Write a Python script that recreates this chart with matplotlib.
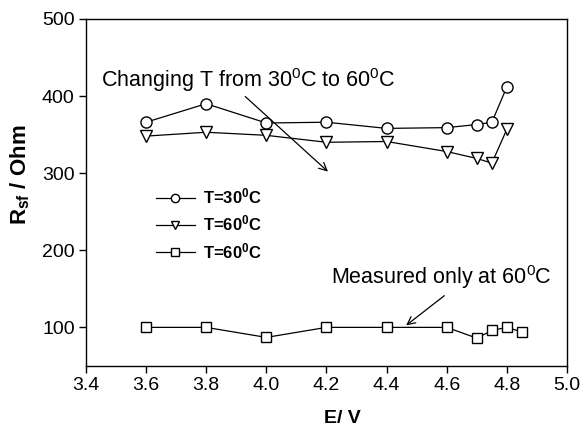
import numpy as np
import matplotlib
matplotlib.use('Agg')
import matplotlib.pyplot as plt

plt.rcParams['font.family'] = ['Liberation Sans', 'DejaVu Sans']
plt.rcParams['mathtext.fontset'] = 'custom'
plt.rcParams['mathtext.rm'] = 'Liberation Sans'
plt.rcParams['mathtext.it'] = 'Liberation Sans:italic'
plt.rcParams['mathtext.bf'] = 'Liberation Sans:bold'

# sheet resistance vs potential
E_30 = [3.6, 3.8, 4.0, 4.2, 4.4, 4.6, 4.7, 4.75, 4.8]
R_30 = [366, 390, 365, 366, 358, 359, 363, 366, 412]

E_60 = [3.6, 3.8, 4.0, 4.2, 4.4, 4.6, 4.7, 4.75, 4.8]
R_60 = [348, 353, 349, 340, 341, 328, 319, 313, 357]

E_60b = [3.6, 3.8, 4.0, 4.2, 4.4, 4.6, 4.7, 4.75, 4.8, 4.85]
R_60b = [100, 100, 87, 100, 100, 100, 86, 96, 100, 94]

fig = plt.figure(figsize=(5.84, 4.29), dpi=100)
ax = fig.add_axes([0.147, 0.147, 0.824, 0.809])

mk = dict(color='black', lw=0.9, mfc='white', mec='black', mew=1.0)
ax.plot(E_30, R_30, marker='o', ms=8, label=r'T=30$^\mathbf{0}$C', **mk)
ax.plot(E_60, R_60, marker='v', ms=8, label=r'T=60$^\mathbf{0}$C', **mk)
ax.plot(E_60b, R_60b, marker='s', ms=7.5, label=r'T=60$^\mathbf{0}$C', **mk)

ax.set_xlim(3.4, 5.0)
ax.set_ylim(50, 500)
ax.set_xticks(np.arange(3.4, 5.01, 0.2))
ax.set_xticklabels(['%.1f' % v for v in np.arange(3.4, 5.01, 0.2)])
ax.set_yticks([100, 200, 300, 400, 500])
ax.tick_params(axis='both', which='major', labelsize=14, direction='out',
               length=5, width=1, pad=3)

for s in ax.spines.values():
    s.set_linewidth(1.0)

ax.set_xlabel('E/ V', fontsize=14, fontweight='bold')
ax.xaxis.set_label_coords(0.534, -0.128)
ax.set_ylabel(r'R$_\mathbf{sf}$ / Ohm', fontsize=16, fontweight='bold')
ax.yaxis.set_label_coords(-0.112, 0.55)

leg = ax.legend(loc='upper left', bbox_to_anchor=(0.115, 0.56), frameon=False,
                prop={'weight': 'bold', 'size': 12}, handlelength=2.3,
                handletextpad=0.5, labelspacing=0.45, markerscale=0.75)

ax.annotate(r'Changing T from 30$^0$C to 60$^0$C', xy=(4.205, 302),
            xytext=(3.45, 421), fontsize=15.5, ha='left', va='center',
            arrowprops=dict(arrowstyle='->', lw=0.9, color='black',
                            shrinkA=0, shrinkB=0, mutation_scale=14,
                            relpos=(0.48, 0.0)))

ax.annotate(r'Measured only at 60$^0$C', xy=(4.465, 102.6),
            xytext=(4.215, 165), fontsize=15.5, ha='left', va='center',
            arrowprops=dict(arrowstyle='->', lw=0.9, color='black',
                            shrinkA=2, shrinkB=0, mutation_scale=14,
                            relpos=(0.54, 0.0)))

plt.savefig('out.png', dpi=100)
